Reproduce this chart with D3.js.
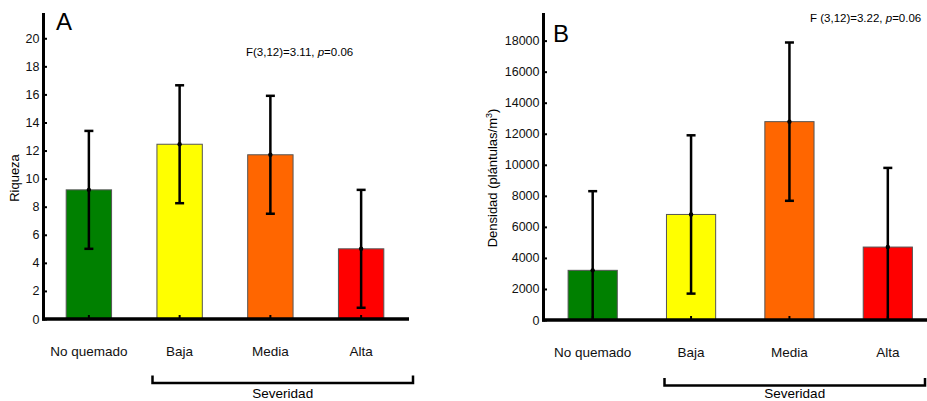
<!DOCTYPE html>
<html>
<head>
<meta charset="utf-8">
<script src="https://cdn.jsdelivr.net/npm/d3@7/dist/d3.min.js"></script>
<style>
  body { margin: 0; background: #fff; }
  svg { font-family: Arial, "Liberation Sans", sans-serif; }
</style>
</head>
<body>
<div class="main"></div>
<script>
// data
let categories = ['No quemado', 'Baja', 'Media', 'Alta']
let colors = ['#008000', '#ffff00', '#ff6600', '#ff0000']

let riquezaMean = [9.2, 12.45, 11.7, 5.0]
let riquezaErr = [4.2, 4.2, 4.2, 4.2]
let riquezaTicks = [0, 2, 4, 6, 8, 10, 12, 14, 16, 18, 20]

let densidadMean = [3200, 6800, 12780, 4700]
let densidadErr = [5100, 5100, 5100, 5100]
let densidadTicks = [0, 2000, 4000, 6000, 8000, 10000, 12000, 14000, 16000, 18000]

let svg = d3.select('.main').append('svg')
  .attr('width', 927)
  .attr('height', 401)

function drawPanel(p) {
  let g = svg.append('g')

  let xScale = d3.scaleBand()
    .domain(categories)
    .range([p.left, p.bandRight])
    .paddingInner(0.5)
    .paddingOuter(0.25)

  let yScale = d3.scaleLinear()
    .domain([0, p.yMax])
    .range([p.bottom, p.top])

  // bars
  g.selectAll('rect.bar').data(p.mean).enter().append('rect')
    .attr('class', 'bar')
    .attr('x', (d, i) => xScale(categories[i]))
    .attr('width', xScale.bandwidth())
    .attr('y', d => yScale(d))
    .attr('height', d => yScale(0) - yScale(d))
    .style('fill', (d, i) => colors[i])
    .style('stroke', '#555')
    .style('stroke-width', 1)

  // error bars
  let cx = i => xScale(categories[i]) + xScale.bandwidth() / 2
  let errs = p.mean.map((m, i) => ({i: i, m: m, lo: Math.max(0, m - p.err[i]), hi: m + p.err[i], clip: m - p.err[i] < 0}))

  g.selectAll('line.err').data(errs).enter().append('line')
    .attr('x1', d => cx(d.i)).attr('x2', d => cx(d.i))
    .attr('y1', d => yScale(d.lo)).attr('y2', d => yScale(d.hi))
    .style('stroke', '#000').style('stroke-width', 2.5)

  g.selectAll('line.capHi').data(errs).enter().append('line')
    .attr('x1', d => cx(d.i) - 4.5).attr('x2', d => cx(d.i) + 4.5)
    .attr('y1', d => yScale(d.hi)).attr('y2', d => yScale(d.hi))
    .style('stroke', '#000').style('stroke-width', 2.5)

  g.selectAll('line.capLo').data(errs.filter(d => !d.clip)).enter().append('line')
    .attr('x1', d => cx(d.i) - 4.5).attr('x2', d => cx(d.i) + 4.5)
    .attr('y1', d => yScale(d.lo)).attr('y2', d => yScale(d.lo))
    .style('stroke', '#000').style('stroke-width', 2.5)

  g.selectAll('circle.mean').data(errs).enter().append('circle')
    .attr('cx', d => cx(d.i)).attr('cy', d => yScale(d.m)).attr('r', 2.2)
    .style('fill', '#000')

  // y axis
  let yAxis = d3.axisLeft(yScale).tickValues(p.ticks).tickFormat(d3.format('d')).tickSize(-3.5)
  let ya = g.append('g')
    .attr('transform', `translate(${p.left}, 0)`)
    .call(yAxis)
  ya.select('.domain').remove()
  ya.selectAll('.tick line').style('stroke', '#000').style('stroke-width', 2)
  ya.selectAll('.tick text').style('font-size', '12.5px').style('fill', '#111')
    .attr('x', -4)

  // x axis
  let xAxis = d3.axisBottom(xScale).tickSize(-4)
  let xa = g.append('g')
    .attr('transform', `translate(0, ${p.bottom})`)
    .call(xAxis)
  xa.select('.domain').remove()
  xa.selectAll('.tick line').style('stroke', '#000').style('stroke-width', 2)
  xa.selectAll('.tick text').style('font-size', '13.5px').style('fill', '#111')
    .attr('y', 27)

  // thick axis lines
  g.append('line')
    .attr('x1', p.left).attr('x2', p.left)
    .attr('y1', p.axisTop).attr('y2', p.bottom + 1.5)
    .style('stroke', '#000').style('stroke-width', 3)
  g.append('line')
    .attr('x1', p.left - 1.5).attr('x2', p.axisRight)
    .attr('y1', p.bottom).attr('y2', p.bottom)
    .style('stroke', '#000').style('stroke-width', 3.5)

  // y label
  g.append('text')
    .attr('transform', `translate(${p.yLabelX}, ${p.yLabelY}) rotate(-90)`)
    .attr('text-anchor', 'middle')
    .style('font-size', '13px')
    .html(p.yLabel)

  // panel letter
  g.append('text')
    .attr('x', p.letterX).attr('y', p.letterY)
    .style('font-size', '24px')
    .text(p.letter)

  // stats
  g.append('text')
    .attr('x', p.statX).attr('y', p.statY)
    .style('font-size', '11.5px')
    .html(p.stat)

  // severity bracket
  let bx1 = p.bracket[0], bx2 = p.bracket[1]
  g.append('path')
    .attr('d', `M${bx1},${p.bracketY - 7.5}V${p.bracketY}H${bx2}V${p.bracketY - 7.5}`)
    .style('fill', 'none').style('stroke', '#000').style('stroke-width', 2.5)
  g.append('text')
    .attr('x', (bx1 + bx2) / 2).attr('y', p.severY)
    .attr('text-anchor', 'middle')
    .style('font-size', '13.5px')
    .text('Severidad')
}

drawPanel({
  mean: riquezaMean, err: riquezaErr, ticks: riquezaTicks,
  yMax: 21.8, left: 43.5, bandRight: 406.5, axisRight: 409, top: 13, bottom: 319, axisTop: 13,
  yLabel: 'Riqueza', yLabelX: 19, yLabelY: 178,
  letter: 'A', letterX: 56, letterY: 30,
  stat: 'F(3,12)=3.11, <tspan font-style="italic">p</tspan>=0.06', statX: 246, statY: 56,
  bracket: [152.5, 413], bracketY: 383, severY: 398
})

drawPanel({
  mean: densidadMean, err: densidadErr, ticks: densidadTicks,
  yMax: 19780, left: 543.5, bandRight: 937, axisRight: 927, top: 13, bottom: 320, axisTop: 13,
  yLabel: 'Densidad (plántulas/m<tspan dy="-5" font-size="9px">3</tspan><tspan dy="5">)</tspan>', yLabelX: 497, yLabelY: 178,
  letter: 'B', letterX: 553, letterY: 42,
  stat: 'F (3,12)=3.22, <tspan font-style="italic">p</tspan>=0.06', statX: 810, statY: 22,
  bracket: [664.5, 925], bracketY: 385.5, severY: 398
})
</script>
</body>
</html>
